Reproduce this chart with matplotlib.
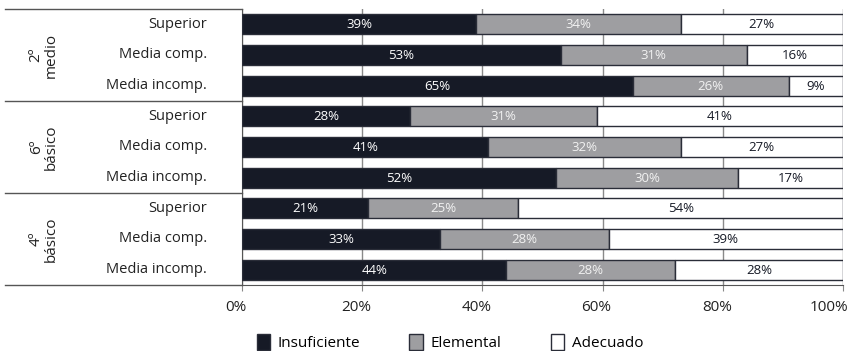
import numpy as np
import matplotlib
matplotlib.use("Agg")
import matplotlib.pyplot as plt
from matplotlib.patches import Patch
from matplotlib.transforms import ScaledTranslation

plt.rcParams['font.family'] = ['Open Sans', 'DejaVu Sans']

groups = ["2º\nmedio", "6º\nbásico", "4º\nbásico"]
levels = ["Superior", "Media comp.", "Media incomp."]
series = ["Insuficiente", "Elemental", "Adecuado"]

# rows listed top to bottom: 2º medio, 6º básico, 4º básico
insuficiente = [39, 53, 65, 28, 41, 52.2, 21, 33, 44]
elemental = [34, 31, 26, 31, 32, 30.4, 25, 28, 28]
adecuado = [27, 16, 9, 41, 27, 17.4, 54, 39, 28]

xticks = [0, 20, 40, 60, 80, 100]

dark = "#161a26"
grey = "#9e9ea1"
edge = "#2a2d38"
txt = "#222222"

fig = plt.figure(figsize=(8.54, 3.51), dpi=100)
ax = fig.add_axes([242 / 854, 1 - 285 / 351, 601 / 854, 276 / 351])

n = len(insuficiente)
y = np.arange(n)
h = 0.655

vals = [insuficiente, elemental, adecuado]
fills = [dark, grey, "white"]
txtc = ["white", "#f2f2f2", dark]
left = np.zeros(n)
for v, fc, tc in zip(vals, fills, txtc):
    v = np.array(v, dtype=float)
    ax.barh(y, v, left=left, height=h, color=fc, edgecolor=edge, linewidth=1, zorder=3)
    for yi, (l, w) in enumerate(zip(left, v)):
        ax.text(l + w / 2, yi + 0.02, "%.0f%%" % w, ha="center", va="center",
                color=tc, fontsize=9.5, zorder=4)
    left += v

ax.set_ylim(n - 0.5, -0.5)
ax.set_xlim(0, 100)
ax.set_xticks(xticks)
ax.set_xticklabels(["%d%%" % t for t in xticks], fontsize=11, color=txt)
ax.tick_params(axis="x", length=4, color="#888888", pad=7)
shift = ScaledTranslation(-6 / 100, 0, fig.dpi_scale_trans)
for lab in ax.get_xticklabels():
    lab.set_transform(lab.get_transform() + shift)
ax.get_xticklabels()[-1].set_transform(ax.get_xticklabels()[-1].get_transform()
                                       + ScaledTranslation(-8 / 100, 0, fig.dpi_scale_trans))
ax.set_yticks([])
ax.grid(axis="x", color="#8a8a8a", linewidth=1, zorder=0)
for s in ["top", "right"]:
    ax.spines[s].set_visible(False)
ax.spines["left"].set_color("#555555")
ax.spines["bottom"].set_color("#555555")

# row labels
for i in range(n):
    ax.text(-0.058, i, levels[i % 3], transform=ax.get_yaxis_transform(),
            ha="right", va="center", fontsize=10.5, color=txt)

# group labels and separators
x_line = (5 - 242) / 601
for g, name in enumerate(groups):
    ax.text(-0.33, g * 3 + 1, name, transform=ax.get_yaxis_transform(),
            ha="center", va="center", rotation=90, fontsize=11,
            color=txt, linespacing=1.0)
for b in [-0.5, 2.5, 5.5, 8.5]:
    ax.plot([x_line, 0], [b, b], transform=ax.get_yaxis_transform(),
            color="#555555", linewidth=1, clip_on=False)

handles = [Patch(facecolor=fc, edgecolor=edge, label=s) for fc, s in zip(fills, series)]
fig.legend(handles=handles, loc="lower center", bbox_to_anchor=(0.527, -0.04), ncol=3,
           frameon=False, fontsize=11, handlelength=0.9, handleheight=1.2,
           columnspacing=3.2, handletextpad=0.5)

fig.savefig("out.png", dpi=100)
